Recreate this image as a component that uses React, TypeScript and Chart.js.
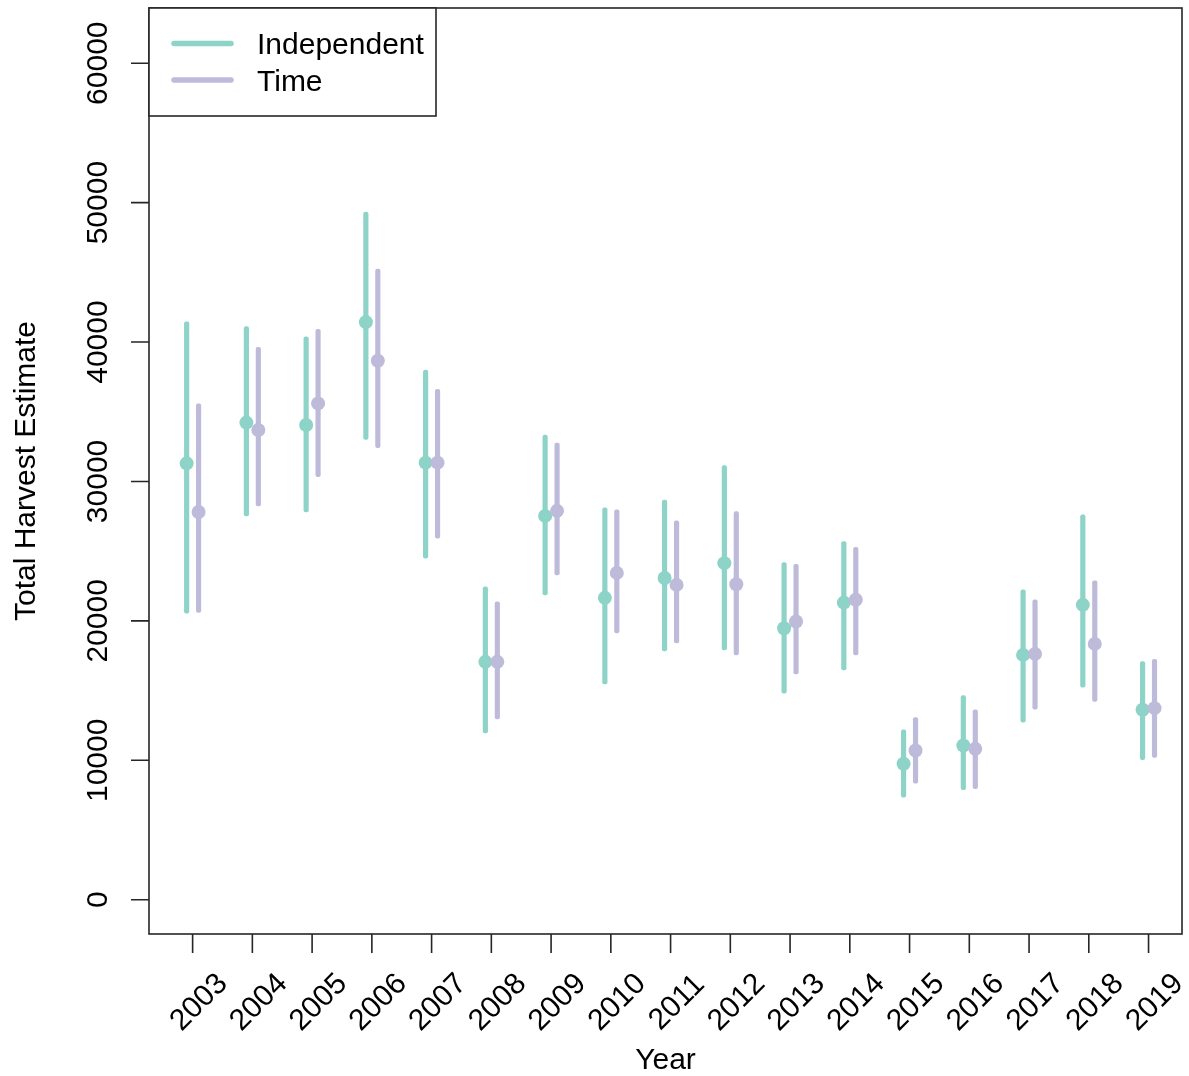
import { useEffect, useRef } from "react";
import { Chart, registerables } from "chart.js";

Chart.register(...registerables);

const years = [2003, 2004, 2005, 2006, 2007, 2008, 2009, 2010, 2011, 2012, 2013, 2014, 2015, 2016, 2017, 2018, 2019];

const independentEst = [31300, 34220, 34050, 41430, 31350, 17060, 27530, 21650, 23080, 24140, 19470, 21310, 9750, 11060, 17560, 21150, 13620];
const independentLow = [20550, 27530, 27810, 33020, 24490, 11970, 21860, 15480, 17850, 17920, 14810, 16490, 7360, 7890, 12740, 15250, 10040];
const independentHigh = [41450, 41100, 40380, 49320, 37990, 22440, 33330, 28100, 28670, 31130, 24180, 25690, 12190, 14650, 22220, 27600, 17080];

const timeEst = [27810, 33690, 35600, 38660, 31350, 17060, 27890, 23440, 22580, 22630, 19950, 21510, 10700, 10820, 17630, 18350, 13740];
const timeLow = [20600, 28240, 30340, 32420, 25930, 12970, 23300, 19140, 18420, 17560, 16200, 17560, 8360, 7960, 13670, 14220, 10200];
const timeHigh = [35560, 39620, 40910, 45230, 36610, 21360, 32760, 27960, 27170, 27840, 24060, 25280, 13070, 13620, 21510, 22870, 17250];

const yTicks = [0, 10000, 20000, 30000, 40000, 50000, 60000];
const seriesNames = ["Independent", "Time"];
const seriesColors = ["#8DD3C7", "#BEBADA"];
const xTitle = "Year";
const yTitle = "Total Harvest Estimate";

const FONT = 'Arial, "Liberation Sans", sans-serif';
const OFFSET = 0.1;

const axesPlugin = {
  id: "rAxes",
  afterDraw(chart: any) {
    const ctx = chart.ctx;
    const { left, right, top, bottom } = chart.chartArea;
    const xs = chart.scales.x;
    const ys = chart.scales.y;
    ctx.save();
    ctx.strokeStyle = "#262626";
    ctx.lineWidth = 1.6;
    // box
    ctx.strokeRect(left, top, right - left, bottom - top);
    // ticks
    ctx.beginPath();
    for (const v of yTicks) {
      const y = ys.getPixelForValue(v);
      ctx.moveTo(left, y);
      ctx.lineTo(left - 18, y);
    }
    for (const yr of years) {
      const x = xs.getPixelForValue(yr);
      ctx.moveTo(x, bottom);
      ctx.lineTo(x, bottom + 19);
    }
    ctx.stroke();

    ctx.fillStyle = "#000";
    ctx.font = `30px ${FONT}`;
    ctx.textBaseline = "alphabetic";
    ctx.textAlign = "center";
    for (const v of yTicks) {
      const y = ys.getPixelForValue(v);
      ctx.save();
      ctx.translate(107, y);
      ctx.rotate(-Math.PI / 2);
      ctx.fillText(String(v), 0, 0);
      ctx.restore();
    }
    for (const yr of years) {
      const x = xs.getPixelForValue(yr);
      ctx.save();
      ctx.translate(x + 12.5, 1008.5);
      ctx.rotate(-Math.PI / 4);
      ctx.fillText(String(yr), 0, 0);
      ctx.restore();
    }
    // titles
    ctx.save();
    ctx.translate(35, (top + bottom) / 2);
    ctx.rotate(-Math.PI / 2);
    ctx.fillText(yTitle, 0, 0);
    ctx.restore();
    ctx.fillText(xTitle, (left + right) / 2, 1069);

    // legend
    const lx = left, ly = top, lw = 287, lh = 108;
    ctx.fillStyle = "#fff";
    ctx.fillRect(lx, ly, lw, lh);
    ctx.strokeRect(lx, ly, lw, lh);
    const rows = [43.5, 80];
    seriesNames.forEach((name, i) => {
      ctx.strokeStyle = seriesColors[i];
      ctx.lineWidth = 5.5;
      ctx.lineCap = "round";
      ctx.beginPath();
      ctx.moveTo(lx + 25, rows[i]);
      ctx.lineTo(lx + 82, rows[i]);
      ctx.stroke();
      ctx.fillStyle = "#000";
      ctx.textAlign = "left";
      ctx.fillText(name, lx + 108, rows[i] + 10.5);
    });
    ctx.restore();
  },
};

export default function App() {
  const ref = useRef<HTMLCanvasElement | null>(null);
  useEffect(() => {
    if (!ref.current) return;
    const mkBars = (lo: number[], hi: number[], off: number, color: string) => ({
      type: "bar" as const,
      data: years.map((yr, i) => ({ x: yr + off, y: [lo[i], hi[i]] })),
      backgroundColor: color,
      barThickness: 4.5,
      borderRadius: 2,
      borderSkipped: false,
      grouped: false,
      order: 3,
    });
    const mkPts = (est: number[], off: number, color: string, order: number) => ({
      type: "scatter" as const,
      data: years.map((yr, i) => ({ x: yr + off, y: est[i] })),
      backgroundColor: color,
      borderWidth: 0,
      pointRadius: 7,
      pointHoverRadius: 7,
      showLine: false,
      order,
    });
    const chart = new Chart(ref.current, {
      type: "scatter",
      data: {
        datasets: [
          mkBars(independentLow, independentHigh, -OFFSET, seriesColors[0]),
          mkBars(timeLow, timeHigh, OFFSET, seriesColors[1]),
          mkPts(independentEst, -OFFSET, seriesColors[0], 2),
          mkPts(timeEst, OFFSET, seriesColors[1], 1),
        ] as any,
      },
      options: {
        responsive: false,
        animation: false,
        events: [],
        layout: { padding: { left: 149, right: 6, top: 8, bottom: 142 } },
        plugins: { legend: { display: false }, tooltip: { enabled: false } },
        scales: {
          x: { type: "linear", display: false, min: 2002.27, max: 2019.56, offset: false },
          y: { type: "linear", display: false, min: -2460, max: 63960, beginAtZero: false },
        },
      },
      plugins: [axesPlugin],
    });
    return () => chart.destroy();
  }, []);
  return (
    <div style={{ position: "absolute", left: 0, top: 0, width: 1189, height: 1076, background: "#fff" }}>
      <canvas ref={ref} width={1189} height={1076} style={{ display: "block" }} />
    </div>
  );
}
